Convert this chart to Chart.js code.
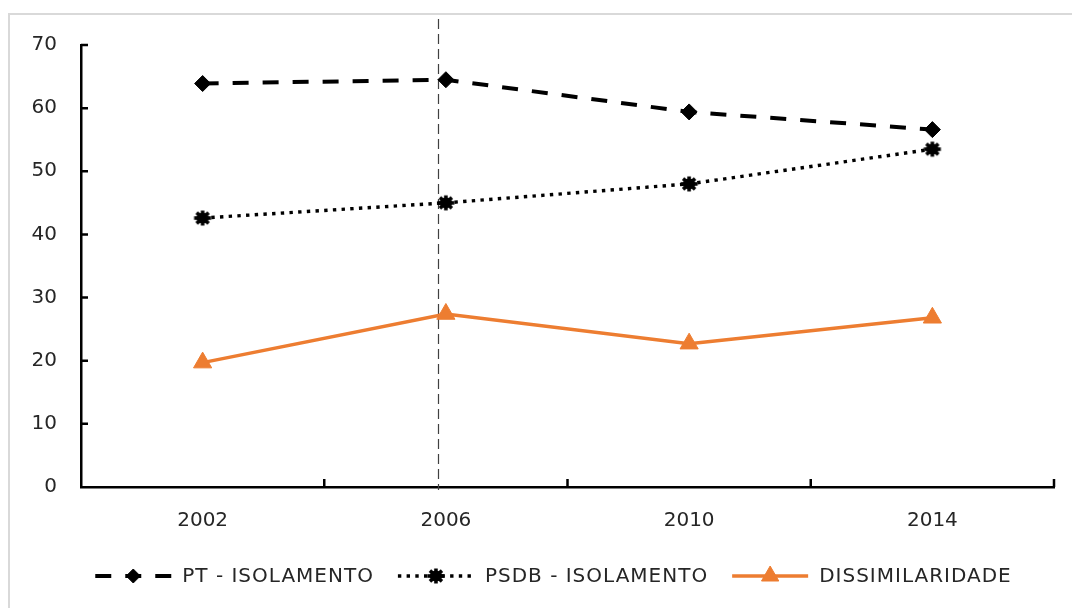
<!DOCTYPE html>
<html>
<head>
<meta charset="utf-8">
<script src="https://cdn.jsdelivr.net/npm/chart.js@4/dist/chart.umd.min.js"></script>
<style>
html,body{margin:0;padding:0;background:#fff;overflow:hidden;}
#wrap{position:relative;width:1072px;height:608px;}
</style>
</head>
<body>
<div id="wrap"><canvas id="c"></canvas></div>
<script>
// ---- data ----
const years = ['2002', '2006', '2010', '2014'];
const ptIsolamento = [63.9, 64.5, 59.4, 56.6];
const psdbIsolamento = [42.6, 45.0, 48.0, 53.5];
const dissimilaridade = [19.7, 27.4, 22.7, 26.8];
const yTickValues = [0, 10, 20, 30, 40, 50, 60, 70];
const seriesLabels = ['PT - ISOLAMENTO', 'PSDB - ISOLAMENTO', 'DISSIMILARIDADE'];
const markerYear = '2006';

// ---- styling ----
const ORANGE = '#ED7D31';
const TEXT = '#262626';
const FONT = '"DejaVu Sans", Verdana, sans-serif';

function makeStarMarker() {
  const c = document.createElement('canvas');
  c.width = 20; c.height = 18;
  const g = c.getContext('2d');
  g.translate(10, 9);
  g.fillStyle = '#000'; g.strokeStyle = '#000';
  g.beginPath(); g.ellipse(0, 0, 6.3, 5.4, 0, 0, Math.PI * 2); g.fill();
  g.lineWidth = 3.6;
  for (let i = 0; i < 4; i++) {
    const a = i * Math.PI / 4;
    g.beginPath();
    g.moveTo(-Math.cos(a) * 8.5, -Math.sin(a) * 7.5);
    g.lineTo(Math.cos(a) * 8.5, Math.sin(a) * 7.5);
    g.stroke();
  }
  return c;
}
const starMarker = makeStarMarker();

const decorPlugin = {
  id: 'decor',
  beforeDraw(chart) {
    const ctx = chart.ctx;
    ctx.save();
    ctx.strokeStyle = '#d9d9d9';
    ctx.lineWidth = 2;
    ctx.beginPath();
    ctx.moveTo(9, chart.height + 5);
    ctx.lineTo(9, 14);
    ctx.lineTo(chart.width + 5, 14);
    ctx.stroke();
    ctx.restore();
  },
  beforeDatasetsDraw(chart) {
    // vertical dashed reference line near 2006
    const ctx = chart.ctx;
    const xs = chart.scales.x;
    const idx = years.indexOf(markerYear);
    const x = Math.round(xs.getPixelForValue(idx) - 8) + 0.5;
    ctx.save();
    ctx.strokeStyle = '#404040';
    ctx.lineWidth = 1.2;
    ctx.setLineDash([10, 5]);
    ctx.beginPath();
    ctx.moveTo(x, 19);
    ctx.lineTo(x, chart.chartArea.bottom + 3);
    ctx.stroke();
    ctx.restore();
  },
  afterDraw(chart) {
    const ctx = chart.ctx;
    const xs = chart.scales.x, ys = chart.scales.y;
    const area = chart.chartArea;
    // inside tick marks
    ctx.save();
    ctx.strokeStyle = '#000';
    ctx.lineWidth = 2.5;
    ctx.beginPath();
    yTickValues.forEach(v => {
      const y = ys.getPixelForValue(v);
      if (v === 0) return;
      ctx.moveTo(area.left, y);
      ctx.lineTo(area.left + 7, y);
    });
    for (let i = 1; i <= years.length; i++) {
      const x = xs.getPixelForValue(i - 0.5);
      ctx.moveTo(x, area.bottom);
      ctx.lineTo(x, area.bottom - 8);
    }
    ctx.stroke();
    ctx.restore();

    // legend
    ctx.save();
    ctx.font = '20px ' + FONT;
    try { ctx.letterSpacing = '1px'; } catch (e) {}
    const iconW = 76, gapIT = 11, gapItems = 24;
    const dsets = chart.data.datasets;
    const widths = dsets.map(ds => ctx.measureText(ds.label).width);
    const total = widths.reduce((s, w) => s + iconW + gapIT + w, 0) + gapItems * (dsets.length - 1);
    let x = (area.left + area.right) / 2 - 14 - total / 2;
    const y = 576;
    dsets.forEach((ds, i) => {
      ctx.save();
      ctx.strokeStyle = ds.borderColor;
      ctx.lineWidth = ds.borderWidth;
      ctx.setLineDash(ds.borderDash || []);
      ctx.beginPath();
      ctx.moveTo(x, y);
      ctx.lineTo(x + iconW, y);
      ctx.stroke();
      ctx.setLineDash([]);
      ctx.fillStyle = ds.pointBackgroundColor;
      ctx.strokeStyle = ds.pointBorderColor;
      ctx.lineWidth = ds.pointBorderWidth;
      Chart.helpers.drawPoint(ctx, {
        pointStyle: ds.pointStyle,
        radius: ds.legendRadius,
        borderWidth: ds.pointBorderWidth,
        rotation: 0
      }, x + iconW / 2, y);
      ctx.restore();
      ctx.fillStyle = TEXT;
      ctx.textBaseline = 'middle';
      ctx.textAlign = 'left';
      ctx.fillText(ds.label, x + iconW + gapIT, y + 1);
      x += iconW + gapIT + widths[i] + gapItems;
    });
    ctx.restore();
  }
};

new Chart(document.getElementById('c'), {
  type: 'line',
  data: {
    labels: years,
    datasets: [
      {
        label: seriesLabels[0],
        data: ptIsolamento,
        borderColor: '#000',
        borderWidth: 4,
        borderDash: [16, 14],
        pointStyle: 'rectRot',
        pointRadius: 8,
        legendRadius: 7,
        pointBackgroundColor: '#000',
        pointBorderColor: '#000',
        pointBorderWidth: 1,
        tension: 0
      },
      {
        label: seriesLabels[1],
        data: psdbIsolamento,
        borderColor: '#000',
        borderWidth: 3.4,
        borderDash: [3.4, 5.3],
        pointStyle: starMarker,
        pointRadius: 9,
        legendRadius: 9,
        pointBackgroundColor: '#000',
        pointBorderColor: '#000',
        pointBorderWidth: 1,
        tension: 0
      },
      {
        label: seriesLabels[2],
        data: dissimilaridade,
        borderColor: ORANGE,
        borderWidth: 3.5,
        pointStyle: 'triangle',
        pointRadius: 10.5,
        legendRadius: 10,
        pointBackgroundColor: ORANGE,
        pointBorderColor: ORANGE,
        pointBorderWidth: 1,
        tension: 0
      }
    ]
  },
  options: {
    responsive: true,
    maintainAspectRatio: false,
    animation: false,
    events: [],
    layout: { padding: { left: 0, right: 18, top: 45, bottom: 0 } },
    plugins: {
      legend: { display: false },
      tooltip: { enabled: false },
      title: { display: false }
    },
    scales: {
      x: {
        type: 'category',
        offset: true,
        grid: { display: false, drawTicks: false },
        border: { display: true, color: '#000', width: 2.5 },
        ticks: { color: TEXT, font: { family: FONT, size: 20 }, padding: 22, maxRotation: 0 },
        afterFit(scale) { scale.height = 121; }
      },
      y: {
        min: 0,
        max: 70,
        grid: { display: false, drawTicks: false },
        border: { display: true, color: '#000', width: 2.5 },
        afterBuildTicks(scale) { scale.ticks = yTickValues.map(v => ({ value: v })); },
        ticks: { color: TEXT, font: { family: FONT, size: 20 }, padding: 24 },
        afterFit(scale) { scale.width = 81; }
      }
    }
  },
  plugins: [decorPlugin]
});
</script>
</body>
</html>
